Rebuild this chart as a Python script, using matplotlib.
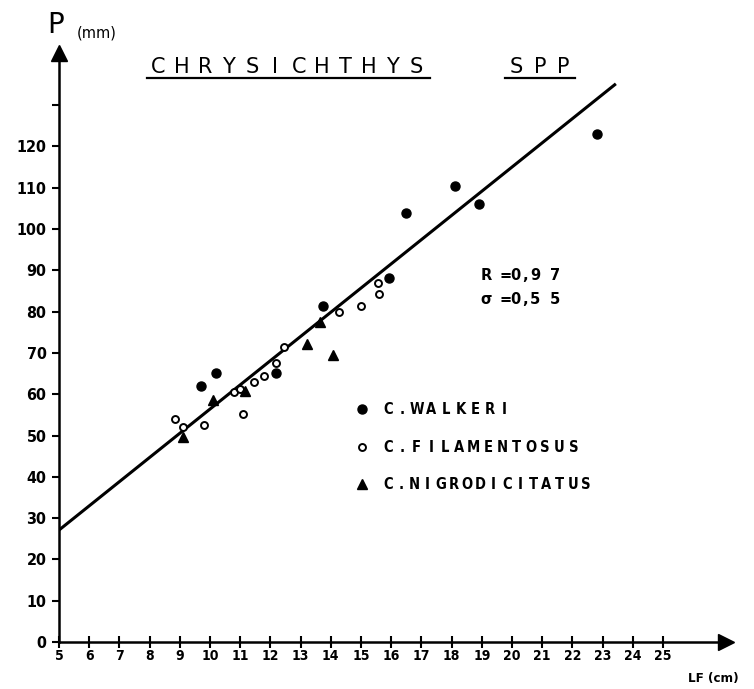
import matplotlib.pyplot as plt
from matplotlib.lines import Line2D

# Chrysichthys spp. : weight P (mm) against fork length LF (cm)
walkeri_lf = [9.7, 10.2, 12.2, 13.74, 15.93, 16.5, 18.1, 18.9, 22.8]
walkeri_p = [62.0, 65.1, 65.1, 81.4, 88.1, 103.9, 110.4, 106.0, 123.0]

filamentosus_lf = [8.85, 9.1, 9.8, 10.8, 11.0, 11.1, 11.46, 11.8, 12.2, 12.45,
                   14.27, 15.0, 15.56, 15.6]
filamentosus_p = [54.0, 52.1, 52.5, 60.5, 61.2, 55.2, 63.0, 64.4, 67.5, 71.4,
                  79.9, 81.4, 86.9, 84.3]

nigro_lf = [9.1, 10.1, 11.16, 13.2, 13.64, 14.07]
nigro_p = [49.6, 58.6, 60.8, 72.2, 77.5, 69.5]

# fitted line P = a + b * LF
fit_a = -2.2
fit_b = 5.86
fit_lf = [5.0, 23.4]

x_ticks = list(range(5, 26))
y_ticks = list(range(0, 131, 10))
y_labels = [str(v) for v in range(0, 121, 10)] + [""]

species = ["C.WALKERI", "C.FILAMENTOSUS", "C.NIGRODICITATUS"]

W, H = 754, 689
fig = plt.figure(figsize=(W / 100, H / 100), dpi=100)
ax = fig.add_axes([59 / W, 1 - 642 / H, (726 - 59) / W, (642 - 53) / H])
ax.set_xlim(5, 5 + (726 - 59) / 30.2)
ax.set_ylim(0, (642 - 53) / 4.13)


def px(x, y):
    return x / W, 1 - y / H


def spaced(x0, y, text, pitch, **kw):
    # plotter-style lettering: one glyph per fixed step
    for i, ch in enumerate(text):
        fig.text(*px(x0 + i * pitch, y), ch, ha="center", va="baseline", **kw)


# data
ax.plot(walkeri_lf, walkeri_p, "o", color="black", ms=6.5, zorder=4)
ax.plot(filamentosus_lf, filamentosus_p, "o", mfc="white", mec="black",
        mew=1.4, ms=5, zorder=4)
ax.plot(nigro_lf, nigro_p, "^", color="black", ms=7.5, zorder=4)
ax.plot(fit_lf, [fit_a + fit_b * v for v in fit_lf], color="black", lw=2.2,
        zorder=3)

# axes with arrow heads
for side in ["top", "right"]:
    ax.spines[side].set_visible(False)
for side in ["left", "bottom"]:
    ax.spines[side].set_linewidth(1.8)
ax.plot(1, 0, ">", color="black", ms=11, transform=ax.transAxes, clip_on=False)
ax.plot(0, 1, "^", color="black", ms=11, transform=ax.transAxes, clip_on=False)

ax.set_xticks(x_ticks)
ax.set_xticklabels([str(v) for v in x_ticks], fontsize=10, fontweight="bold",
                   fontstretch="condensed")
ax.tick_params(axis="x", direction="inout", length=8, width=1.5, pad=1)
ax.set_yticks(y_ticks)
ax.set_yticklabels(y_labels, fontsize=11.5, fontweight="bold",
                   fontstretch="condensed")
ax.tick_params(axis="y", direction="out", length=5, width=1.5, pad=4)

# axis names
fig.text(*px(56, 33), "P", fontsize=20, ha="center", va="baseline")
fig.text(*px(77, 37), "(mm)", fontsize=10.5, ha="left", va="baseline")
fig.text(*px(688, 682), "LF (cm)", fontsize=9.5, fontweight="bold",
         fontstretch="condensed", ha="left", va="baseline")

# title, underlined
spaced(158.5, 73, "CHRYSICHTHYS", 23.4, fontsize=15)
spaced(516.5, 73, "SPP", 23.4, fontsize=15)
for x0, x1 in [(147, 430), (505, 575)]:
    fig.add_artist(Line2D([x0 / W, x1 / W], [1 - 78 / H] * 2, color="black",
                          lw=1.6))

# statistics
spaced(486, 280, "R =0,9 7", 9.8, fontsize=10.5, fontweight="bold")
spaced(486, 304, "σ =0,5 5", 9.8, fontsize=10.5, fontweight="bold")

# key
key_style = [dict(marker="o", color="black", ms=6.5),
             dict(marker="o", mfc="white", mec="black", mew=1.4, ms=5),
             dict(marker="^", color="black", ms=7.5)]
key_rows = [409, 447, 484]
key_pitch = [14.5, 14.3, 13.2]
for name, style, yrow, pitch in zip(species, key_style, key_rows, key_pitch):
    fig.add_artist(Line2D([362 / W], [1 - yrow / H], linestyle="none", **style))
    spaced(388, yrow + 5, name, pitch, fontsize=10.5, fontweight="bold",
           fontstretch="condensed")

fig.savefig("out.png", dpi=100)
